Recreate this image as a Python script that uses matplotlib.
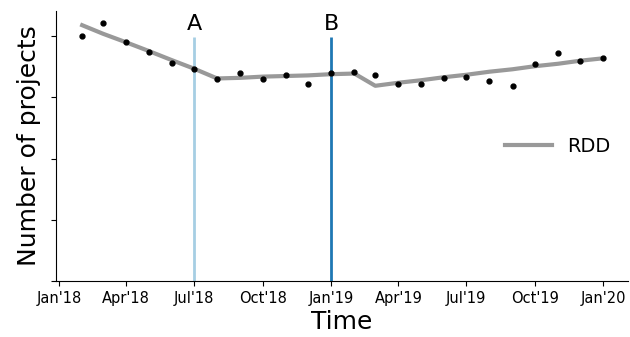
import matplotlib
matplotlib.use("Agg")
import matplotlib.pyplot as plt
import matplotlib.dates as mdates
import pandas as pd

plt.rcParams["font.family"] = ["DejaVu Sans"]

# monthly observations, Feb'18 .. Jan'20
months = pd.date_range("2018-02-01", "2020-01-01", freq="MS")
projects = [4.00, 4.22, 3.91, 3.74, 3.56, 3.47, 3.30, 3.40, 3.30, 3.36, 3.22,
            3.40, 3.42, 3.36, 3.22, 3.22, 3.32, 3.34, 3.27, 3.18, 3.54, 3.72, 3.60, 3.64]

# fitted regression discontinuity values per month
rdd = [4.18, 4.04, 3.90, 3.76, 3.61, 3.47,
       3.31, 3.32, 3.34, 3.35, 3.36, 3.38, 3.39,
       3.19, 3.24, 3.28, 3.33, 3.37, 3.42, 3.46, 3.51, 3.55, 3.60, 3.64]

events = {"A": ("2018-07-01", "#a6cee3"), "B": ("2019-01-01", "#1f78b4")}
tick_dates = pd.date_range("2018-01-01", "2020-01-01", freq="3MS")

fig, ax = plt.subplots(figsize=(6.3, 3.37), dpi=100)
fig.subplots_adjust(left=0.089, right=0.997, bottom=0.166, top=0.967)

ax.plot(months, rdd, color="#999999", lw=3, label="RDD", zorder=2)
ax.plot(months, projects, "o", color="black", ms=3.5, zorder=3)

for name, (day, col) in events.items():
    d = pd.Timestamp(day)
    ax.vlines(d, 0, 3.98, color=col, lw=2, zorder=1)
    ax.text(d, 4.03, name, ha="center", va="bottom", fontsize=16)

ax.set_xlim(pd.Timestamp("2017-12-28"), pd.Timestamp("2020-02-03"))
ax.set_ylim(0, 4.41)
ax.set_yticks([0, 1, 2, 3, 4])
ax.set_yticklabels([])
ax.set_xticks(tick_dates)
ax.xaxis.set_major_formatter(mdates.DateFormatter("%b'%y"))
ax.tick_params(axis="x", labelsize=10.5)

ax.spines["top"].set_visible(False)
ax.spines["right"].set_visible(False)

ax.set_xlabel("Time", fontsize=18, labelpad=3)
ax.set_ylabel("Number of projects", fontsize=18)
ax.legend(frameon=False, fontsize=14, handlelength=2.4, loc="center right",
          bbox_to_anchor=(1.0, 0.5))

fig.savefig("out.png", dpi=100)
